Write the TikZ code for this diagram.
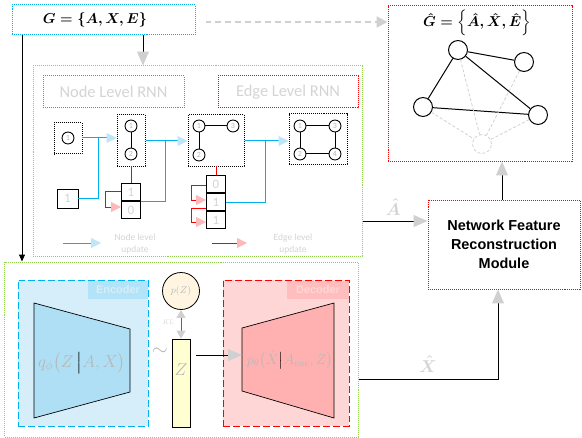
\documentclass[tikz,border=0pt]{standalone}
\usepackage{amsmath}
\usepackage{fontspec}
\usetikzlibrary{arrows.meta,calc}
\newfontfamily\carl{Carlito}
\newfontfamily\arialf{Liberation Sans}
\definecolor{cyanl}{HTML}{00B0F0}
\definecolor{cyantip}{HTML}{BDE6F8}
\definecolor{redtip}{HTML}{FFB8B8}
\definecolor{greenl}{HTML}{92D050}
\definecolor{txtg}{HTML}{D4D4D4}
\definecolor{mathg}{HTML}{B8B8B8}
\definecolor{encfill}{HTML}{D6EEFA}
\definecolor{enclab}{HTML}{B3E3F8}
\definecolor{enctrap}{HTML}{AEDFF5}
\definecolor{decfill}{HTML}{FFD6D6}
\definecolor{declab}{HTML}{FFBDBD}
\definecolor{dectrap}{HTML}{FFB1B1}
\definecolor{zfill}{HTML}{FFFFD2}
\definecolor{pzfill}{HTML}{FFF5E0}
\definecolor{gtip}{HTML}{D0D0D0}
\tikzset{
  box/.style={rectangle, inner sep=0pt, line width=1pt, densely dotted},
  bluebox/.style={box, draw=cyanl},
  redbox/.style={box, draw=red},
  greenbox/.style={box, draw=greenl},
  blkbox/.style={box, draw=black},
  gn/.style={circle, draw, line width=0.9pt, minimum size=12pt, inner sep=0pt, font=\carl\fontsize{8}{8}\selectfont, text=mathg},
  bn/.style={circle, draw, line width=1pt, minimum size=19pt, inner sep=0pt},
  cell/.style={rectangle, draw, line width=1pt, minimum width=20pt, minimum height=18pt, inner sep=0pt, font=\carl\fontsize{13}{13}\selectfont, text=txtg},
  bline/.style={draw=cyanl, line width=1pt},
  rline/.style={draw=red, line width=1pt},
  btip/.style={-{Triangle[color=cyantip,length=10pt,width=10pt]}},
  rtip/.style={-{Triangle[color=redtip,length=10pt,width=10pt]}},
  gtipst/.style={-{Triangle[color=gtip,length=14pt,width=12pt]}},
  lbl/.style={font=\carl\fontsize{16.5}{17}\selectfont, text=txtg},
  leg/.style={font=\carl\fontsize{9.5}{12}\selectfont, text=txtg, align=center},
  title/.style={font=\fontsize{15}{15}\selectfont, inner sep=0pt},
}
\begin{document}
\begin{tikzpicture}[x=1bp,y=-1bp]
\useasboundingbox (0,0) rectangle (582,438);
% top boxes
\node[bluebox, minimum width=183bp, minimum height=30bp] (G) at (103.5,20) {};
\node[title] (Gt) at (95,20) {$\boldsymbol{G=\left\{A,X,E\right\}}$};
\node[redbox, minimum width=184bp, minimum height=155bp] (GH) at (480,83.5) {};
\node[title] (GHt) at (477,23) {$\boldsymbol{\hat G=\Bigl\{\hat A,\hat X,\hat E\Bigr\}}$};
% upper green
\node[greenbox, minimum width=329bp, minimum height=190bp] (UG) at (197.5,161) {};
\node[bluebox, minimum width=141bp, minimum height=32bp, lbl] (NR) at (113.5,92) {Node Level RNN};
\node[redbox, minimum width=140bp, minimum height=32bp, lbl] (ER) at (288,92) {Edge Level RNN};
% graph boxes
\node[blkbox, minimum width=28bp, minimum height=31bp] (g1) at (68,138.5) {};
\node[blkbox, minimum width=28bp, minimum height=51bp] (g2) at (131,140.5) {};
\node[blkbox, minimum width=56bp, minimum height=51bp] (g3) at (216,140.5) {};
\node[blkbox, minimum width=58bp, minimum height=50bp] (g4) at (318,139) {};
\node[gn] (a1) at (68,138) {1};
\node[gn] (b1) at (131,126) {1};
\node[gn] (b2) at (131,154) {2};
\draw[line width=1pt] (b1) -- (b2);
\node[gn] (c1) at (199,126) {1};
\node[gn] (c3) at (233,126) {3};
\node[gn] (c2) at (199,155) {2};
\draw[line width=1pt] (c1) -- (c3) (c1) -- (c2);
\node[gn] (d1) at (300,126) {1};
\node[gn] (d3) at (335,126) {3};
\node[gn] (d2) at (300,154) {2};
\node[gn] (d4) at (335,154) {4};
\draw[line width=1pt] (d1) -- (d3) -- (d4) -- (d2) -- (d1);
% cells
\node[cell, minimum width=21bp, minimum height=19bp] (sq) at (67.5,198.5) {1};
\node[cell] (s11) at (131,192) {1};
\node[cell] (s10) at (131,210) {0};
\node[cell] (s20) at (216,184) {0};
\node[cell] (s21) at (216,202) {1};
\node[cell] (s22) at (216,220) {1};
% blue connections
\coordinate (j1) at (98,138);
\coordinate (j2) at (165,141);
\coordinate (j3) at (265,141);
\draw[bline, btip] (g1.east |- j1) -- (g2.west |- j1);
\draw[bline] (sq.east) -| (j1);
\draw[bline, btip] (g2.east |- j2) -- (g3.west |- j2);
\draw[bline] (s11.south east) -| (j2);
\draw[bline, btip] (g3.east |- j3) -- (g4.west |- j3);
\draw[bline] (s21.east) -| (j3);
% red connections
\draw[rline] (g2.south) -- (s11.north);
\draw[rline] (g3.south) -- (s20.north);
\draw[rline, rtip] (121,191) -- (105,191) -- (105,207) -- (121,207);
\draw[rline, rtip] (206,185) -- (191,185) -- (191,200) -- (206,200);
\draw[rline, rtip] (206,208) -- (191,208) -- (191,222) -- (206,222);
% legend
\coordinate (lb1) at (63,243); \coordinate (lb2) at (101,243);
\draw[bline, btip] (lb1) -- (lb2);
\node[leg] (lt1) at (135,244) {Node level\\update};
\coordinate (lr1) at (212,243); \coordinate (lr2) at (247,243);
\draw[rline, rtip] (lr1) -- (lr2);
\node[leg] (lt2) at (293,244) {Edge level\\update};
% reconstructed graph
\node[bn] (n1) at (458,50) {};
\node[bn] (n2) at (524,62) {};
\node[bn] (n3) at (423,107) {};
\node[bn] (n4) at (538,115) {};
\node[bn, draw=gtip, densely dashed, line width=0.8pt] (n5) at (482,144) {};
\draw[line width=1pt] (n1) -- (n2) (n1) -- (n3) (n1) -- (n4) (n3) -- (n4);
\draw[gtip, densely dashed, line width=0.8pt] (n1) -- (n5) (n2) -- (n5) (n3) -- (n5) (n4) -- (n5);
% NFRM
\node[redbox, minimum width=152bp, minimum height=89bp, align=center, font=\arialf\bfseries\fontsize{14.5}{19}\selectfont] (NF) at (504,244.5) {Network Feature\\Reconstruction\\Module};
% lower green
\node[greenbox, minimum width=353bp, minimum height=175bp] (LG) at (181.5,349.5) {};
% encoder
\node[rectangle, fill=encfill, draw=cyanl, dash pattern=on 7pt off 3pt, line width=1pt, minimum width=130bp, minimum height=146bp, inner sep=0pt] (ENC) at (83,353) {};
\node[rectangle, fill=enclab, minimum width=60bp, minimum height=18bp, inner sep=0pt, font=\arialf\bfseries\fontsize{11}{11}\selectfont, text=encfill] (ENCl) at (118,289.5) {Encoder};
\draw[fill=enctrap, line width=0.7pt] (34,303) -- (130,329) -- (130,392) -- (34,418) -- cycle;
\node[text=mathg, font=\fontsize{17}{20}\selectfont] (qt) at (82,363) {$q_{\phi}\bigl(Z\,{\color{black}\big|}A,X\bigr)$};
% decoder
\node[rectangle, fill=decfill, draw=red, dash pattern=on 7pt off 3pt, line width=1pt, minimum width=126bp, minimum height=146bp, inner sep=0pt] (DEC) at (286,353) {};
\node[rectangle, fill=declab, minimum width=62bp, minimum height=18bp, inner sep=0pt, font=\arialf\bfseries\fontsize{11}{11}\selectfont, text=decfill] (DECl) at (318,289.5) {Decoder};
\draw[fill=dectrap, line width=0.7pt] (242,328) -- (334,303) -- (334,418) -- (242,391) -- cycle;
\coordinate (dl) at (242,355);
\node[text=mathg, font=\fontsize{14}{16}\selectfont] (pt) at (290,360) {$p_{\theta}\bigl(\hat X{\color{black}\big|}A_{vae},Z\bigr)$};
% Z and prior
\node[text=mathg, font=\fontsize{22}{22}\selectfont] (tl) at (160,352) {$\sim$};
\node[rectangle, fill=zfill, draw, line width=0.8pt, minimum width=18bp, minimum height=88bp, inner sep=0pt] (Z) at (181,383) {};
\node[text=mathg, font=\fontsize{17}{17}\selectfont] (Zt) at (181,370) {$Z$};
\node[circle, fill=pzfill, draw, line width=0.8pt, minimum size=37bp, inner sep=0pt, text=mathg, font=\fontsize{10}{10}\selectfont] (PZ) at (181,291) {$p(Z)$};
\draw[draw=gray!80!black, line width=1pt, {Triangle[color=gtip,length=8pt,width=9pt]}-{Triangle[color=gtip,length=8pt,width=9pt]}] (PZ.south) -- (Z.north);
\node[text=txtg, font=\itshape\fontsize{7}{7}\selectfont] (kl) at (168,322) {KL};
\draw[line width=1pt, gtipst] (Z.east |- dl) ++(6,0) -- (dl);
% main connectors
\draw[gtip, line width=2pt, dash pattern=on 6pt off 4pt, -{Triangle[color=gtip,length=11pt,width=11pt]}] ($(G.east)+(10,2)$) -- (GH.west |- 0,22);
\draw[line width=1pt, gtipst] (G.south -| 143,0) -- (UG.north -| 143,0);
\draw[line width=1pt, -{Triangle[length=7pt,width=6pt]}] (G.south -| 22,0) -- (LG.north -| 22,0);
\draw[line width=1pt, gtipst] (UG.east |- 0,221) -- (NF.west |- 0,221);
\node[text=txtg, font=\fontsize{16}{16}\selectfont, inner sep=0pt] (AH) at (393,207) {$\boldsymbol{\hat A}$};
\draw[line width=1pt, gtipst] (NF.north -| 502,0) -- (GH.south -| 502,0);
\coordinate (xc) at (498,379);
\draw[line width=1pt, gtipst] (LG.east |- xc) -- (xc) -- (NF.south -| xc);
\node[text=txtg, font=\fontsize{16}{16}\selectfont, inner sep=0pt] (XH) at (428,364) {$\boldsymbol{\hat X}$};
\end{tikzpicture}
\end{document}
